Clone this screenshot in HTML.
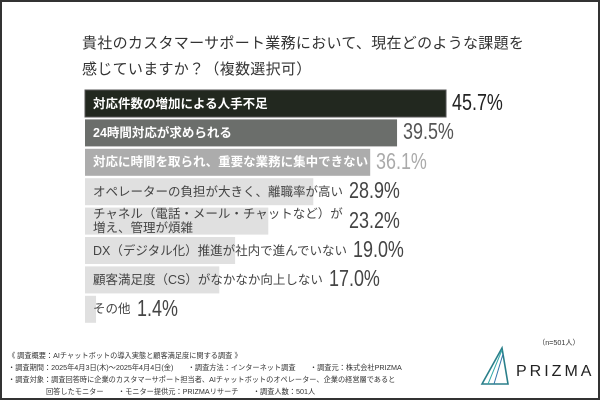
<!DOCTYPE html>
<html><head><meta charset="utf-8">
<style>
body{margin:0;width:600px;height:400px;overflow:hidden;background:#fff;font-family:"Liberation Sans","Noto Sans CJK JP",sans-serif;}
#frame{position:absolute;left:0;top:0;width:596px;height:396px;border:2px solid #333;z-index:10;pointer-events:none;}
.title{position:absolute;left:82px;font-size:15px;color:#333;letter-spacing:0.3px;white-space:nowrap;}
.lbl{position:absolute;left:93px;font-size:12.5px;white-space:nowrap;line-height:14px;}
.val{position:absolute;font-family:"Liberation Sans Narrow","Liberation Sans",sans-serif;font-size:23px;white-space:nowrap;transform:scaleX(0.78);transform-origin:left center;}
.foot{position:absolute;font-size:7.2px;color:#333;white-space:nowrap;}
</style></head><body>
<div id="frame"></div>
<div class="title" style="top:32px">貴社のカスタマーサポート業務において、現在どのような課題を</div>
<div class="title" style="top:58px">感じていますか？（複数選択可）</div>
<svg id="chart" width="600" height="400" style="position:absolute;left:0;top:0"></svg>
<div id="labels"></div>
<div class="foot" style="left:538px;top:338px">（n=501人）</div>
<div class="foot" style="left:8px;top:351px">《 調査概要：AIチャットボットの導入実態と顧客満足度に関する調査 》</div>
<div class="foot" style="left:8px;top:363px">・調査期間：2025年4月3日(木)～2025年4月4日(金)　　・調査方法：インターネット調査　　・調査元：株式会社PRIZMA</div>
<div class="foot" style="left:8px;top:375px">・調査対象：調査回答時に企業のカスタマーサポート担当者、AIチャットボットのオペレーター、企業の経営層であると</div>
<div class="foot" style="left:46px;top:387px">回答したモニター　　・モニター提供元：PRIZMAリサーチ　　・調査人数：501人</div>
<svg style="position:absolute;left:480px;top:340px" width="115" height="50">
<polygon points="2,44 22,8 28,44" fill="none" stroke="#2a7f8a" stroke-width="1.6"/>
<line x1="8" y1="44" x2="22" y2="10" stroke="#3aa" stroke-width="1"/>
<line x1="14" y1="44" x2="23" y2="14" stroke="#37a" stroke-width="1"/>
<text x="36" y="36" font-family="Liberation Sans, sans-serif" font-size="16" fill="#222" letter-spacing="3">PRIZMA</text>
</svg>
<script>
const categories=["対応件数の増加による人手不足","24時間対応が求められる","対応に時間を取られ、重要な業務に集中できない","オペレーターの負担が大きく、離職率が高い","チャネル（電話・メール・チャットなど）が|増え、管理が煩雑","DX（デジタル化）推進が社内で進んでいない","顧客満足度（CS）がなかなか向上しない","その他"];
const values=[45.7,39.5,36.1,28.9,23.2,19.0,17.0,1.4];
const valueLabels=["45.7%","39.5%","36.1%","28.9%","23.2%","19.0%","17.0%","1.4%"];
const barFill=["#22281f","#6b6e6b","#acacac","#e0e0e0","#e0e0e0","#e0e0e0","#e0e0e0","#e0e0e0"];
const lblColor=["#fff","#fff","#fff","#444","#444","#444","#444","#444"];
const valColor=["#222","#555","#aaa","#444","#444","#444","#444","#444"];
const x0=85, scale=7.9, top0=90, pitch=29.4, bh=27;
const xs=v=>v*scale;
const svg=document.getElementById('chart');
const ns="http://www.w3.org/2000/svg";
const L=document.getElementById('labels');
categories.forEach((c,i)=>{
  const y=top0+i*pitch;
  const r=document.createElementNS(ns,'rect');
  
  
  r.setAttribute('x',x0);r.setAttribute('y',y);r.setAttribute('width',xs(values[i]));r.setAttribute('height',bh);
  r.setAttribute('fill',barFill[i]);
  if(i===0){r.setAttribute('stroke','#555');r.setAttribute('stroke-width','1');}
  svg.appendChild(r);
  const lab=document.createElement('div');
  
  
  lab.className='lbl';
  const parts=c.split('|');
  lab.innerHTML=parts.join('<br>');
  lab.style.color=lblColor[i];
  if(i<3)lab.style.fontWeight='bold';
  lab.style.top=(y+bh/2-parts.length*7)+'px';
  L.appendChild(lab);
  const w=lab.getBoundingClientRect().right;
  const v=document.createElement('div');
  
  
  v.className='val';
  v.textContent=valueLabels[i];
  v.style.color=valColor[i];
  v.style.left=(Math.max(x0+xs(values[i]),w)+6)+'px';
  v.style.top=(y-1)+'px';
  L.appendChild(v);
});
</script>
</body></html>
